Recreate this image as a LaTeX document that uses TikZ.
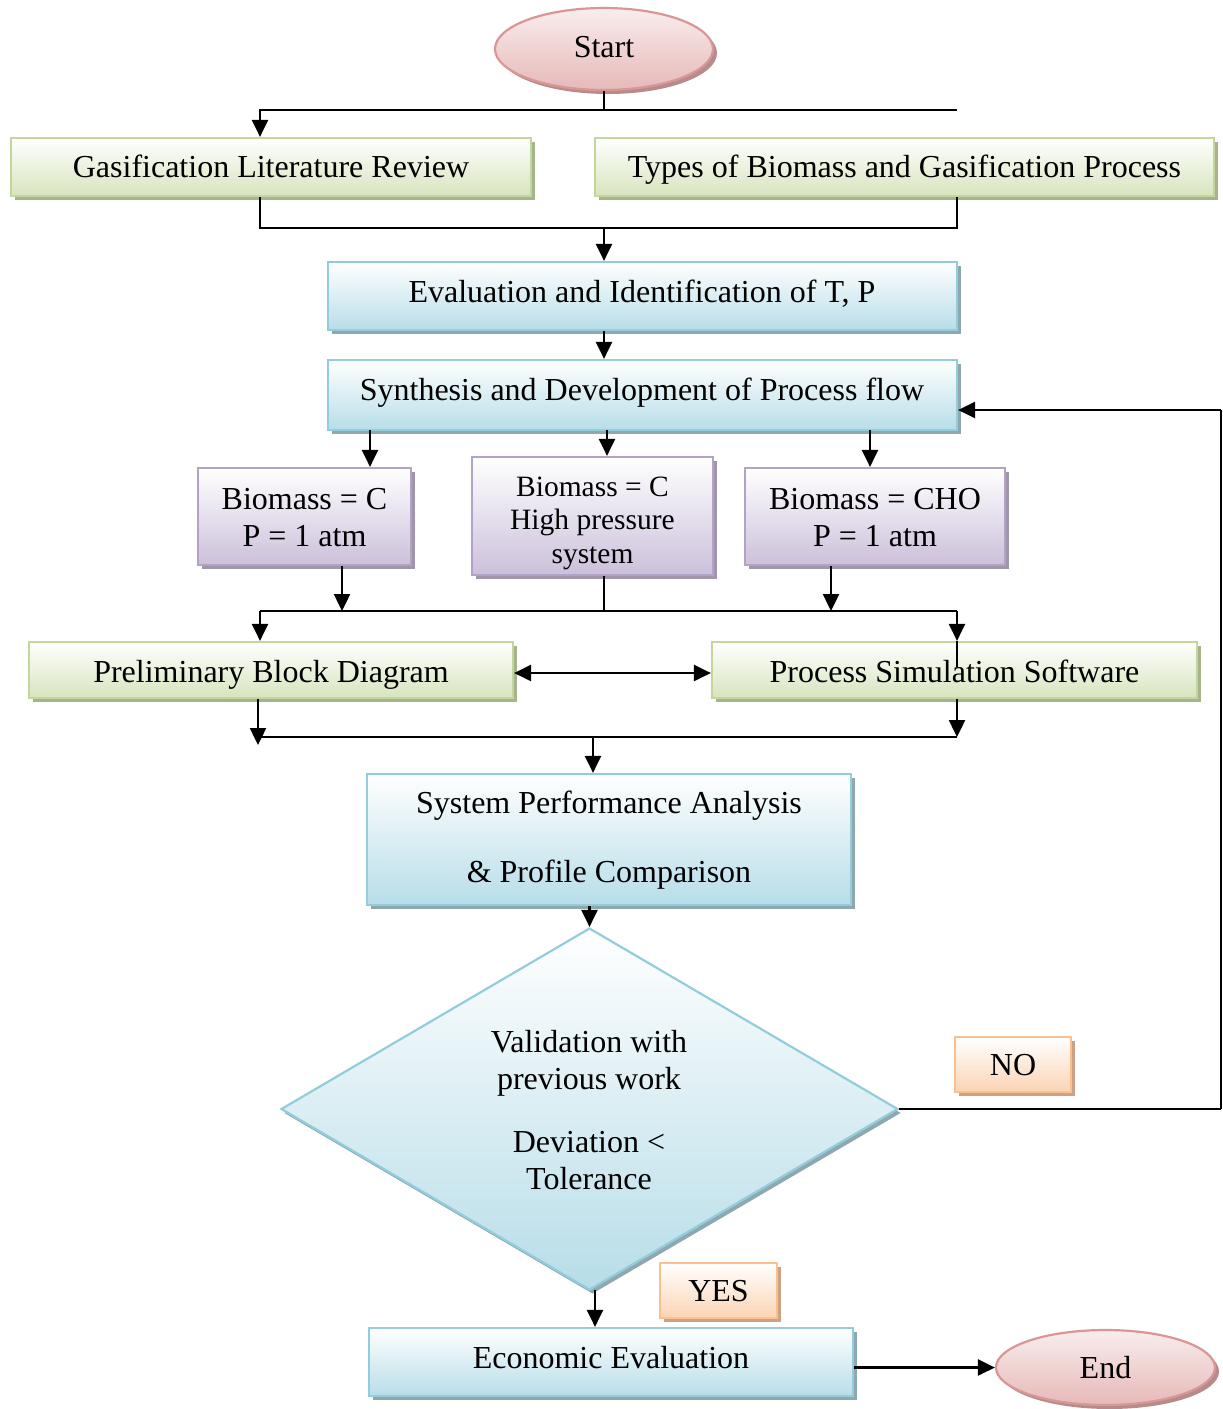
\documentclass[tikz,border=0pt]{standalone}
\usepackage{fontspec}
\setmainfont{Liberation Serif}
\usetikzlibrary{shapes.geometric,shadows,arrows.meta}
\definecolor{gborder}{HTML}{C3D69B}
\definecolor{gbot}{HTML}{D7E4BD}
\definecolor{gshadow}{HTML}{A6B48E}
\definecolor{bborder}{HTML}{93CDDD}
\definecolor{bbot}{HTML}{B7DDE8}
\definecolor{bshadow}{HTML}{8EA8AE}
\definecolor{pborder}{HTML}{B3A2C7}
\definecolor{pbot}{HTML}{CCC0DA}
\definecolor{pshadow}{HTML}{A095AA}
\definecolor{oborder}{HTML}{FAC090}
\definecolor{obot}{HTML}{FBD4B4}
\definecolor{oshadow}{HTML}{CBA384}
\definecolor{rborder}{HTML}{D99694}
\definecolor{rbot}{HTML}{E6B9B8}
\definecolor{rtop}{HTML}{F9EDED}
\definecolor{rshadow}{HTML}{B58C8B}
\newcommand{\mainfs}{\fontsize{32}{37}\selectfont}
\tikzset{
  base/.style={draw, line width=2.2pt, inner sep=0pt, align=center, font=\mainfs,
    text height=21pt, text depth=0pt},
  greenbox/.style={base, rectangle, draw=gborder, top color=white, bottom color=gbot,
    drop shadow={shadow xshift=4pt, shadow yshift=-4pt, fill=gshadow, opacity=1}},
  bluebox/.style={base, rectangle, draw=bborder, top color=white, bottom color=bbot,
    drop shadow={shadow xshift=4pt, shadow yshift=-4pt, fill=bshadow, opacity=1}},
  purplebox/.style={base, rectangle, draw=pborder, top color=white, bottom color=pbot,
    drop shadow={shadow xshift=4pt, shadow yshift=-4pt, fill=pshadow, opacity=1}},
  orangebox/.style={base, rectangle, draw=oborder, top color=white, bottom color=obot,
    drop shadow={shadow xshift=4pt, shadow yshift=-4pt, fill=oshadow, opacity=1}},
  redell/.style={base, ellipse, draw=rborder, top color=rtop, bottom color=rbot,
    drop shadow={shadow xshift=4pt, shadow yshift=-4pt, fill=rshadow, opacity=1}},
  decbox/.style={base, diamond, draw=bborder, top color=white, bottom color=bbot,
    drop shadow={shadow xshift=3pt, shadow yshift=-4pt, fill=bshadow, opacity=1}},
  conn/.style={line width=2.4pt, black},
  arr/.style={conn, -{Triangle[length=17pt,width=16pt]}},
  darr/.style={conn, {Triangle[length=17pt,width=16pt]}-{Triangle[length=17pt,width=16pt]}},
  lbl/.style={font=\mainfs, align=center, inner sep=0pt},
  lbl1/.style={lbl, text height=21pt, text depth=0pt}
}
\begin{document}
\begin{tikzpicture}[x=1pt,y=-1pt]
\useasboundingbox (0,0) rectangle (1223,1409);
% nodes
\node[redell, minimum width=218pt, minimum height=82pt] (start) at (604,49) {};
\node[lbl1] (starttext) at (604,47) {Start};
\node[greenbox, minimum width=520pt, minimum height=58pt] (glr) at (271,167) {Gasification Literature Review};
\node[greenbox, minimum width=619pt, minimum height=58pt] (types) at (904.5,167) {Types of Biomass and Gasification Process};
\node[bluebox, minimum width=629pt, minimum height=68pt] (eval) at (642.5,296) {};
\node[lbl1] (evaltext) at (642,292) {Evaluation and Identification of T, P};
\node[bluebox, minimum width=629pt, minimum height=70pt] (synth) at (642.5,395) {};
\node[lbl1] (synthtext) at (642,390) {Synthesis and Development of Process flow};
\node[purplebox, minimum width=213pt, minimum height=97pt] (bc1) at (304.5,516.5) {};
\node[lbl] (bc1text) at (304.5,518) {Biomass = C\\P = 1 atm};
\node[purplebox, minimum width=241pt, minimum height=118pt] (bc2) at (592.5,516) {};
\node[lbl, font=\fontsize{29.5}{33.5}\selectfont] (bc2text) at (592.5,523) {Biomass = C\\High pressure\\system};
\node[purplebox, minimum width=260pt, minimum height=97pt] (cho) at (875,516.5) {};
\node[lbl] (chotext) at (875,518) {Biomass = CHO\\P = 1 atm};
\node[greenbox, minimum width=484pt, minimum height=56pt] (pbd) at (271,670) {};
\node[lbl1] (pbdtext) at (271,672) {Preliminary Block Diagram};
\node[greenbox, minimum width=485pt, minimum height=56pt] (pss) at (954.5,670) {};
\node[lbl1] (psstext) at (954.5,672) {Process Simulation Software};
\node[bluebox, minimum width=484pt, minimum height=131pt] (spa) at (609,839.5) {};
\node[lbl] (spatext) at (609,840) {System Performance Analysis\\[32pt]\& Profile Comparison};
\node[decbox, minimum width=617pt, minimum height=362pt] (dec) at (589.5,1109) {};
\node[lbl] (dectext) at (589,1110) {Validation with\\previous work\\[26pt]Deviation <\\Tolerance};
\node[orangebox, minimum width=116pt, minimum height=55pt] (no) at (1013,1064.5) {NO};
\node[orangebox, minimum width=117pt, minimum height=55pt] (yes) at (718.5,1290.5) {YES};
\node[bluebox, minimum width=484pt, minimum height=68pt] (econ) at (611,1362) {};
\node[lbl1] (econtext) at (611,1358) {Economic Evaluation};
\node[redell, minimum width=219pt, minimum height=75pt] (end) at (1105.5,1367.5) {End};
% coordinates
\coordinate (tl) at (260,110);
\coordinate (tr) at (957,110);
\coordinate (b1) at (260,228);
\coordinate (b2) at (957,228);
\coordinate (b3) at (604,228);
\coordinate (s1) at (370,430);
\coordinate (s2) at (607,430);
\coordinate (s3) at (870,430);
\coordinate (m1) at (260,611);
\coordinate (m2) at (342,611);
\coordinate (m3) at (604,611);
\coordinate (m4) at (957,611);
\coordinate (m5) at (831,611);
\coordinate (m6) at (957,667);
\coordinate (da) at (600,673);
\coordinate (n0) at (258,745);
\coordinate (n1) at (258,737);
\coordinate (n2) at (957,737);
\coordinate (n3) at (593,737);
\coordinate (y1) at (595,1290);
\coordinate (r1) at (1221,1109);
\coordinate (r2) at (1221,410);
% connectors
\draw[arr] (start.south) |- (tl) -- (tl |- glr.north);
\draw[conn] (start.south |- tl) -- (tr);
\draw[conn] (b1 |- glr.south) -- (b1) -- (b2) -- (b2 |- types.south);
\draw[arr] (b3) -- (b3 |- eval.north);
\draw[arr] (b3 |- eval.south) -- (b3 |- synth.north);
\draw[arr] (s1) -- (s1 |- bc1.north);
\draw[arr] (s2) -- (s2 |- bc2.north);
\draw[arr] (s3) -- (s3 |- cho.north);
\draw[arr] (m2 |- bc1.south) -- (m2);
\draw[conn] (m3 |- bc2.south) -- (m3);
\draw[arr] (m5 |- cho.south) -- (m5);
\draw[conn] (m1) -- (m4);
\draw[arr] (m1) -- (m1 |- pbd.north);
\draw[arr] (m4) -- (m4 |- pss.north);
\draw[conn] (m4 |- pss.north) -- (m6);
\draw[darr] (pbd.east |- da) -- (pss.west |- da);
\draw[arr] (n0 |- pbd.south) -- (n0);
\draw[conn] (n1) -- (n2);
\draw[arr] (n2 |- pss.south) -- (n2);
\draw[arr] (n3) -- (n3 |- spa.north);
\draw[arr] (spa.south -| dec.north) -- (dec.north);
\draw[arr] (y1) -- (y1 |- econ.north);
\draw[conn] (dec.east) -- (r1);
\draw[conn, line width=1.4pt] (r1) -- (r2);
\draw[arr] (r2) -- (r2 -| synth.east);
\draw[arr] (end.west -| econ.east) -- (end.west);
\end{tikzpicture}
\end{document}
